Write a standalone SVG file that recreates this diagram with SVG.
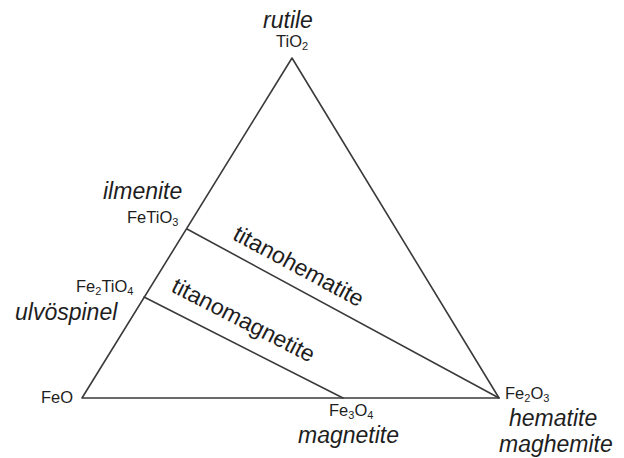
<svg xmlns="http://www.w3.org/2000/svg" width="624" height="458" viewBox="0 0 624 458">
<style>
.ln{stroke:#3a3a3a;stroke-width:1.6;fill:none;stroke-linecap:round;stroke-linejoin:round}
.f{font-family:"Liberation Sans",Arial,sans-serif;font-size:16.5px;fill:#1e1e1e}
.m{font-family:"Liberation Sans",Arial,sans-serif;font-size:23px;font-style:italic;fill:#1e1e1e}
.p{font-family:"Liberation Sans",Arial,sans-serif;font-size:23px;fill:#1e1e1e}
.s{font-size:11px}
</style>
<rect width="624" height="458" fill="#ffffff"/>
<g id="connectors">
<polygon class="ln" points="292,58 82,398 499,398"/>
<line class="ln" x1="187" y1="229" x2="499" y2="398"/>
<line class="ln" x1="144" y1="297" x2="343" y2="398"/>
</g>
<g id="rutile">
<text class="m" x="288" y="28" text-anchor="middle">rutile</text>
<text class="f" x="276" y="47">TiO<tspan class="s" dy="3">2</tspan></text>
</g>
<g id="ilmenite">
<text class="m" x="103" y="199">ilmenite</text>
<text class="f" x="127" y="223">FeTiO<tspan class="s" dy="3">3</tspan></text>
</g>
<g id="ulvospinel">
<text class="f" x="76" y="292">Fe<tspan class="s" dy="3">2</tspan><tspan dy="-3">TiO</tspan><tspan class="s" dy="3">4</tspan></text>
<text class="m" x="15" y="320">ulvöspinel</text>
</g>
<g id="wustite">
<text class="f" x="41" y="403">FeO</text>
</g>
<g id="magnetite">
<text class="f" x="329" y="416">Fe<tspan class="s" dy="3">3</tspan><tspan dy="-3">O</tspan><tspan class="s" dy="3">4</tspan></text>
<text class="m" x="298" y="443">magnetite</text>
</g>
<g id="hematite">
<text class="f" x="505" y="399">Fe<tspan class="s" dy="3">2</tspan><tspan dy="-3">O</tspan><tspan class="s" dy="3">3</tspan></text>
<text class="m" x="509" y="426">hematite</text>
<text class="m" x="499" y="452">maghemite</text>
</g>
<g id="titanohematite">
<text class="p" text-anchor="middle" transform="translate(295,273) rotate(28.4)">titanohematite</text>
</g>
<g id="titanomagnetite">
<text class="p" text-anchor="middle" transform="translate(240,327) rotate(27.2)">titanomagnetite</text>
</g>
</svg>
